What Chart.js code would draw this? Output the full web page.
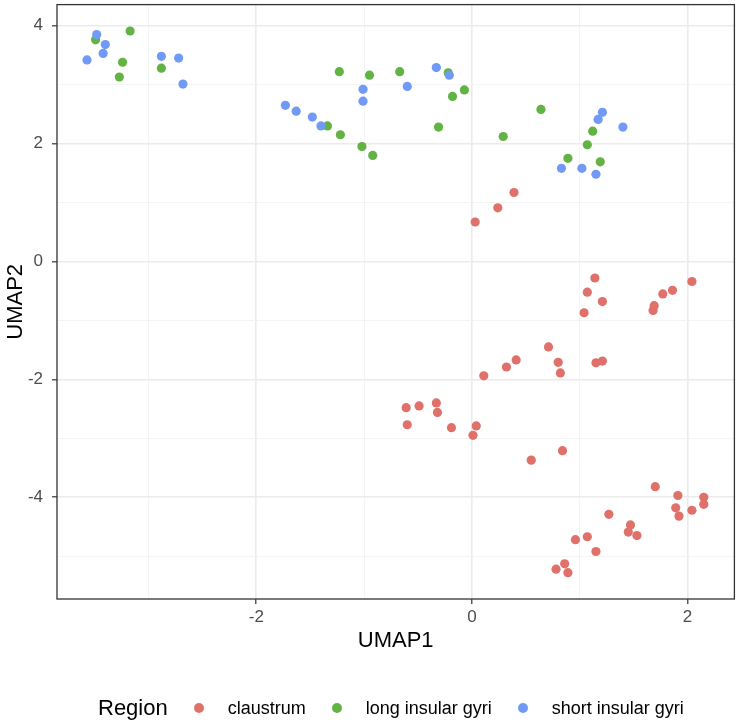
<!DOCTYPE html>
<html>
<head>
<meta charset="utf-8">
<script src="https://cdn.jsdelivr.net/npm/chart.js@4"></script>
<style>
  body { margin: 0; background: #fff; }
  #wrap { position: relative; width: 739px; height: 723px; }
  #legend {
    position: absolute; left: 98px; top: 696px; height: 24px;
    display: flex; align-items: center;
    font-family: "Liberation Sans", Arial, Helvetica, sans-serif; color: #000;
  }
  #legend .title { font-size: 22px; }
  #legend .dot { width: 10px; height: 10px; border-radius: 50%; margin: 0 24px 0 26px; }
  #legend .lab { font-size: 18px; }
</style>
</head>
<body>
<div id="wrap">
  <canvas id="myChart" width="739" height="723"></canvas>
  <div id="legend"></div>
</div>
<script>
// UMAP coordinates, one pair of arrays per region
var regions = ['claustrum', 'long insular gyri', 'short insular gyri'];
var regionColors = ['rgb(224,113,106)', 'rgb(98,178,68)', 'rgb(112,154,246)'];

var claustrumX = [0.39, 0.24, 0.03, 1.14, 1.07, 1.21, 1.04, 2.04, 1.86, 1.77, 1.69, 1.68,
    0.71, 0.41, 0.32, 0.11, 0.80, 0.82, 1.15, 1.21, -0.61, -0.49, -0.33, -0.32, -0.60, -0.19,
    0.04, 0.01, 0.84, 0.55, 1.70, 1.91, 2.15, 2.15, 1.89, 1.92, 2.04, 1.27, 1.47, 1.45, 1.53,
    1.07, 0.96, 1.15, 0.86, 0.78, 0.89];
var claustrumY = [1.17, 0.91, 0.67, -0.28, -0.52, -0.68, -0.87, -0.34, -0.49, -0.55, -0.75, -0.83,
    -1.45, -1.67, -1.79, -1.94, -1.71, -1.89, -1.72, -1.69, -2.48, -2.45, -2.40, -2.56, -2.77, -2.82,
    -2.79, -2.95, -3.21, -3.37, -3.82, -3.97, -4.00, -4.12, -4.18, -4.32, -4.22, -4.29, -4.47, -4.59, -4.65,
    -4.67, -4.72, -4.92, -5.13, -5.22, -5.28];

var longX = [-3.49, -3.17, -3.24, -3.27, -2.88, -1.34, -1.22, -1.23, -0.95, -1.02, -0.92,
    -0.67, -0.22, -0.07, -0.18, -0.31, 0.64, 0.29, 1.12, 1.07, 0.89, 1.19];
var longY = [3.76, 3.91, 3.38, 3.13, 3.28, 2.30, 2.15, 3.22, 3.16, 1.95, 1.80,
    3.22, 3.20, 2.91, 2.80, 2.28, 2.58, 2.12, 2.21, 1.98, 1.75, 1.69];

var shortX = [-3.48, -3.40, -3.42, -3.57, -2.88, -2.72, -2.68, -1.73, -1.63, -1.48, -1.40,
    -1.01, -1.01, -0.60, -0.33, -0.21, 1.21, 1.17, 1.40, 0.83, 1.02, 1.15];
var shortY = [3.85, 3.68, 3.53, 3.42, 3.48, 3.45, 3.01, 2.65, 2.55, 2.45, 2.30,
    2.92, 2.72, 2.97, 3.29, 3.16, 2.53, 2.41, 2.28, 1.58, 1.58, 1.48];

// axis ranges and grid positions (labels only on the even ones)
var xRange = [-3.848, 2.434];
var yRange = [-5.726, 4.358];
var xGrid = [-3, -2, -1, 0, 1, 2];
var yGrid = [-5, -4, -3, -2, -1, 0, 1, 2, 3, 4];

function toPoints(xs, ys) {
    return xs.map(function(x, i) { return { x: x, y: ys[i] }; });
}

var seriesX = [claustrumX, longX, shortX];
var seriesY = [claustrumY, longY, shortY];

var font = '"Liberation Sans", Arial, Helvetica, sans-serif';

function isMajor(v) { return Math.abs(v % 2) < 1e-9; }

function gridColor(ctx) {
    return isMajor(ctx.tick.value) ? '#ebebeb' : '#f3f3f3';
}
function gridWidth(ctx) {
    return isMajor(ctx.tick.value) ? 1.6 : 0.9;
}
function tickColor(ctx) {
    return isMajor(ctx.tick.value) ? '#333333' : 'rgba(0,0,0,0)';
}
function tickLabel(v) {
    return isMajor(v) ? String(v) : '';
}

// fixed axis sizes, and no extra room for end labels
function fitX(axis) {
    axis.height = 60;
    axis.paddingLeft = 0;
    axis.paddingRight = 0;
}
function fitY(axis) {
    axis.width = 57;
    axis.paddingTop = 0;
    axis.paddingBottom = 0;
}

// full panel border like theme_bw
var panelBorder = {
    id: 'panelBorder',
    afterDraw: function(chart) {
        var a = chart.chartArea;
        var c = chart.ctx;
        c.save();
        c.strokeStyle = '#333333';
        c.lineWidth = 1.3;
        c.strokeRect(a.left, a.top, a.right - a.left, a.bottom - a.top);
        c.restore();
    }
};

function displayGraph() {
    var grapharea = document.getElementById('myChart');
    var datasets = regions.map(function(name, i) {
        return {
            label: name,
            data: toPoints(seriesX[i], seriesY[i]),
            backgroundColor: regionColors[i],
            borderWidth: 0,
            pointRadius: 4.6,
            order: [1, 2, 0][i]
        };
    });
    const config = {
        type: 'scatter',
        data: { datasets: datasets },
        options: {
            responsive: false,
            devicePixelRatio: 1,
            animation: false,
            layout: { padding: { left: 0, right: 2, top: 2, bottom: 64 } },
            plugins: { legend: { display: false }, tooltip: { enabled: false } },
            scales: {
                x: {
                    type: 'linear',
                    min: xRange[0],
                    max: xRange[1],
                    afterBuildTicks: function(axis) {
                        axis.ticks = xGrid.map(function(v) { return { value: v }; });
                    },
                    afterFit: fitX,
                    grid: { color: gridColor, lineWidth: gridWidth, tickLength: 5, tickColor: tickColor, tickWidth: 1.2 },
                    border: { display: false },
                    ticks: {
                        callback: tickLabel, color: '#4d4d4d', padding: 3,
                        font: { family: font, size: 17 }, maxRotation: 0, autoSkip: false
                    },
                    title: {
                        display: true, text: 'UMAP1', color: '#000',
                        font: { family: font, size: 22 }, padding: { top: 0, bottom: 5 }
                    }
                },
                y: {
                    type: 'linear',
                    min: yRange[0],
                    max: yRange[1],
                    afterBuildTicks: function(axis) {
                        axis.ticks = yGrid.map(function(v) { return { value: v }; });
                    },
                    afterFit: fitY,
                    grid: { color: gridColor, lineWidth: gridWidth, tickLength: 5, tickColor: tickColor, tickWidth: 1.2 },
                    border: { display: false },
                    ticks: {
                        callback: tickLabel, color: '#4d4d4d', padding: 9,
                        font: { family: font, size: 17 }, autoSkip: false
                    },
                    title: {
                        display: true, text: 'UMAP2', color: '#000',
                        font: { family: font, size: 22 }, padding: { top: 3, bottom: 0 }
                    }
                }
            }
        },
        plugins: [panelBorder]
    };
    const myChart = new Chart(grapharea, config);
}

function buildLegend() {
    var box = document.getElementById('legend');
    var html = '<span class="title">Region</span>';
    regions.forEach(function(name, i) {
        html += '<span class="dot" style="background:' + regionColors[i] + '"></span>' +
            '<span class="lab">' + name + '</span>';
    });
    box.innerHTML = html;
}

displayGraph();
buildLegend();
</script>
</body>
</html>
